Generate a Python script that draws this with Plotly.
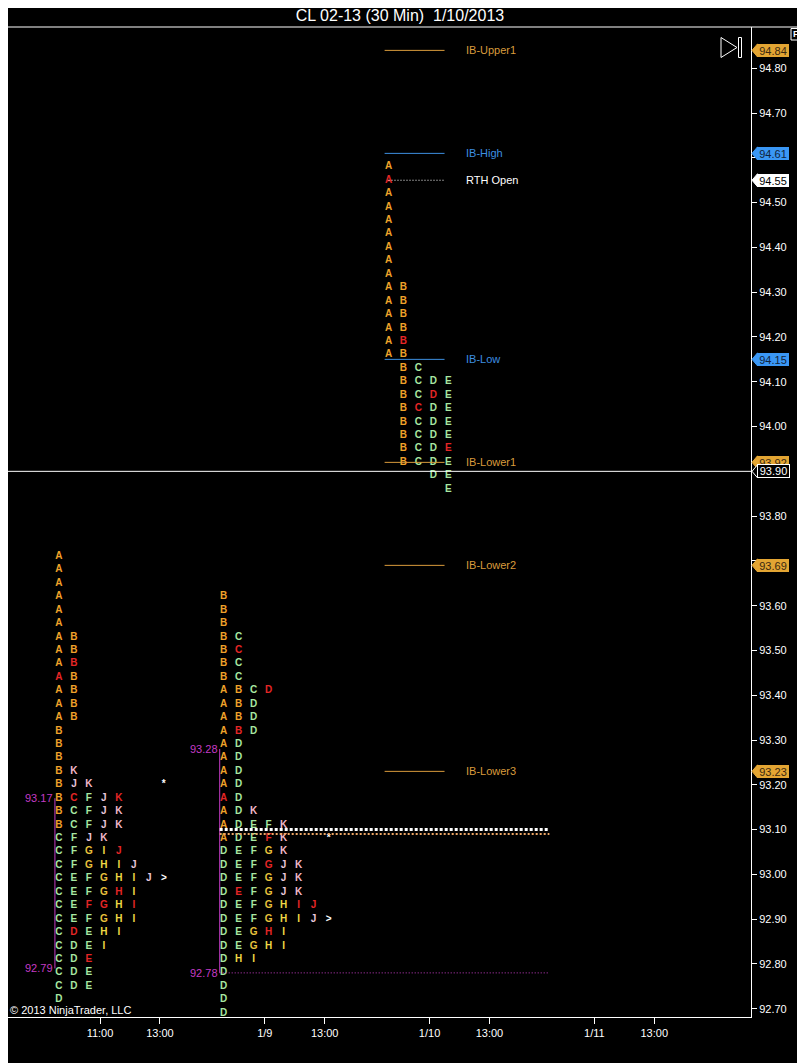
import plotly.graph_objects as go

# ---------------- data ----------------
TITLE = "CL 02-13 (30 Min)  1/10/2013"

BARS_PER_DAY = 11                     # 30-min RTH bars per session (A..K)
TICK_BARS = [3, 7, 14, 18, 25, 29, 36, 40]
TICK_TEXT = ["11:00", "13:00", "1/9", "13:00", "1/10", "13:00", "1/11", "13:00"]

PRICE_TICKS = [92.70, 92.80, 92.90, 93.00, 93.10, 93.20, 93.30, 93.40, 93.50,
               93.60, 93.70, 93.80, 93.90, 94.00, 94.10, 94.20, 94.30, 94.40,
               94.50, 94.60, 94.70, 94.80]
HIDDEN_PRICE_LABELS = [93.70, 93.90, 94.60]   # covered by price flags

TPO_STEP = 0.03
# lower-case letter = red (period open/close) TPO, '>' close marker, '*' marker

# profile of 1/8
P1_DAY = 0
P1_TOP = 93.71
P1_ROWS = [
    "A", "A", "A", "A", "A", "A",
    "AB", "AB", "Ab", "aB", "AB", "AB", "AB",
    "B", "B", "B", "BK", "BJK    *",
    "BcFJk", "BCFJK", "BCFJK",
    "CFJK", "CFGIj", "CFGHIJ", "CEFGHIJ>", "CEFGhI", "CEfgHi", "CEFGHI",
    "CdEHI", "CDEI", "CDe", "CDE", "CDE",
    "D",
]
P1_VAH, P1_VAL = 93.17, 92.79

# profile of 1/9
P2_DAY = 1
P2_TOP = 93.62
P2_ROWS = [
    "B", "B", "B", "BC", "Bc", "BC", "BC",
    "ABCd", "ABD", "ABD", "AbD", "AD", "AD", "AD", "AD", "aD",
    "ADK", "ADEFK", "ADEfK  *",
    "DEFGK", "DEFgJK", "DEFGJK", "DeFGJK", "DEFGHij", "DEFGHIJ>", "DEGhI",
    "DEGHI", "DHI",
    "D", "D", "D", "D",
]
P2_VAH, P2_VAL = 93.28, 92.78
P2_POC_LINE = 93.10
P2_VWAP_LINE = 93.09

# profile of 1/10 (developing)
P3_DAY = 2
P3_TOP = 94.58
P3_ROWS = [
    "A", "a", "A", "A", "A", "A", "A", "A", "A",
    "AB", "AB", "AB", "AB", "Ab", "AB",
    " BC", " BCDE", " BCdE", " BcDE", " BCDE", " BCDE", " BCDe", " BCDE",
    "   DE", "    E",
]

IB_NAMES = ["IB-Upper1", "IB-High", "IB-Low", "IB-Lower1", "IB-Lower2", "IB-Lower3"]
IB_PRICES = [94.84, 94.61, 94.15, 93.92, 93.69, 93.23]
IB_KIND = ["ext", "ib", "ib", "ext", "ext", "ext"]
RTH_OPEN = 94.55
LAST_PRICE = 93.90

# ---------------- style ----------------
FONT = "Arial, Liberation Sans, sans-serif"
ORANGE = "#F0A22A"
GREEN = "#A8E8A2"
GOLD = "#E8C23C"
YELLOW = "#F0D846"
PINK_J = "#E8C6DA"
PINK_K = "#F2B8CA"
RED = "#E52626"
WHITE = "#FFFFFF"
MAGENTA = "#C43BC4"
IB_ORANGE = "#D99B3C"
IB_BLUE = "#3D8FE0"
FLAG_ORANGE = "#E3A533"
FLAG_BLUE = "#3A97F5"

LETTER_COLORS = {"A": ORANGE, "B": ORANGE, "C": GREEN, "D": GREEN, "E": GREEN,
                 "F": GREEN, "G": GOLD, "H": YELLOW, "I": YELLOW, "J": PINK_J,
                 "K": PINK_K, ">": WHITE, "*": WHITE}

# page geometry (the page body adds an 8px offset)
OFF = 8
FIG_W, FIG_H = 805 - OFF, 1063 - OFF
PLOT_LEFT_PAGE, PLOT_RIGHT_PAGE = OFF, 751
PLOT_TOP_PAGE, PLOT_BOTTOM_PAGE = 27, 1017
PLOT_W = PLOT_RIGHT_PAGE - PLOT_LEFT_PAGE
PLOT_H = PLOT_BOTTOM_PAGE - PLOT_TOP_PAGE

COL_OFFSET = 0.26       # first TPO column inside session (bars)
VA_OFFSET = -0.27       # value-area bar relative to first column
PX_PER_BAR = 14.98
X_RANGE = [3 + (PLOT_LEFT_PAGE - 100) / PX_PER_BAR, 3 + (PLOT_RIGHT_PAGE - 100) / PX_PER_BAR]
Y_RANGE = [92.6815, 94.8922]
PX_PER_PRICE = PLOT_H / (Y_RANGE[1] - Y_RANGE[0])


def px_x(px):
    return (px - PLOT_LEFT_PAGE) / PLOT_W


def px_y(py):
    return (PLOT_BOTTOM_PAGE - py) / PLOT_H


# ---------------- build ----------------
groups = {}


def add_profile(rows, top, day):
    for i, row in enumerate(rows):
        price = round(top - i * TPO_STEP, 2)
        for c, ch in enumerate(row):
            if ch == " ":
                continue
            color = RED if ch.islower() else LETTER_COLORS[ch]
            g = groups.setdefault(color, ([], [], []))
            g[0].append(day * BARS_PER_DAY + COL_OFFSET + c)
            g[1].append(price)
            g[2].append(ch.upper())


add_profile(P1_ROWS, P1_TOP, P1_DAY)
add_profile(P2_ROWS, P2_TOP, P2_DAY)
add_profile(P3_ROWS, P3_TOP, P3_DAY)

fig = go.Figure()
for color, (xs, ys, ts) in groups.items():
    fig.add_trace(go.Scatter(
        x=xs, y=ys, text=ts, mode="text", textposition="middle center",
        textfont=dict(family=FONT, size=10, color=color, weight="bold"),
        hoverinfo="skip", showlegend=False))

shapes = []
annotations = []

# value areas
for day, vah, val in [(P1_DAY, P1_VAH, P1_VAL), (P2_DAY, P2_VAH, P2_VAL)]:
    xva = day * BARS_PER_DAY + COL_OFFSET + VA_OFFSET
    shapes.append(dict(type="line", x0=xva, x1=xva, y0=val, y1=vah,
                       line=dict(color=MAGENTA, width=1)))
    for v in (vah, val):
        annotations.append(dict(x=xva, y=v, text=f"{v:.2f}", showarrow=False,
                                xanchor="right", yanchor="middle", xshift=0,
                                font=dict(family=FONT, size=11, color=MAGENTA)))

# extended lines of prior day profile
x_ext0 = P2_DAY * BARS_PER_DAY + COL_OFFSET + VA_OFFSET
x_ext1 = (P3_DAY + 1) * BARS_PER_DAY
shapes.append(dict(type="line", x0=x_ext0, x1=x_ext1, y0=P2_VAL, y1=P2_VAL,
                   line=dict(color=MAGENTA, width=1, dash="1px,2px")))
shapes.append(dict(type="line", x0=x_ext0, x1=x_ext1, y0=P2_VWAP_LINE, y1=P2_VWAP_LINE,
                   line=dict(color="#EDA665", width=2, dash="2px,2px")))
shapes.append(dict(type="line", x0=x_ext0, x1=x_ext1, y0=P2_POC_LINE, y1=P2_POC_LINE,
                   line=dict(color=WHITE, width=3, dash="3px,2px")))

# IB levels of current day
ib_x0 = P3_DAY * BARS_PER_DAY
ib_x1 = ib_x0 + 4
ib_lab = ib_x0 + 5.30
for name, p, kind in zip(IB_NAMES, IB_PRICES, IB_KIND):
    col = IB_BLUE if kind == "ib" else IB_ORANGE
    shapes.append(dict(type="line", x0=ib_x0, x1=ib_x1, y0=p, y1=p,
                       line=dict(color=col, width=1)))
    annotations.append(dict(x=ib_lab, y=p, text=name, showarrow=False,
                            xanchor="left", yanchor="middle",
                            font=dict(family=FONT, size=11, color=col)))
shapes.append(dict(type="line", x0=ib_x0 + COL_OFFSET, x1=ib_x1, y0=RTH_OPEN, y1=RTH_OPEN,
                   line=dict(color=WHITE, width=1, dash="1px,2px")))
annotations.append(dict(x=ib_lab, y=RTH_OPEN, text="RTH Open", showarrow=False,
                        xanchor="left", yanchor="middle",
                        font=dict(family=FONT, size=11, color=WHITE)))

# last price line
shapes.append(dict(type="line", xref="paper", x0=0, x1=1, y0=LAST_PRICE, y1=LAST_PRICE,
                   line=dict(color=WHITE, width=1)))

# price flags on the axis
flags = []
for p, kind in zip(IB_PRICES, IB_KIND):
    flags.append((p, FLAG_BLUE if kind == "ib" else FLAG_ORANGE,
                  "#10243C" if kind == "ib" else "#3A2810", None))
flags.append((RTH_OPEN, WHITE, "#000000", None))
flags.append((LAST_PRICE, "#000000", WHITE, WHITE))
others = sorted([f for f in flags if f[0] != LAST_PRICE], key=lambda f: -f[0])
last = [f for f in flags if f[0] == LAST_PRICE]
order = [f for f in others if f[0] > LAST_PRICE] + last + [f for f in others if f[0] < LAST_PRICE]

half = 6.5 / PX_PER_PRICE
xt, xb = px_x(752), px_x(757.5)
for p, fill, tcol, border in order:
    shapes.append(dict(type="path", xref="paper", yref="y",
                       path=f"M {xt},{p} L {xb},{p + half} L {xb},{p - half} Z",
                       fillcolor=fill, line=dict(color=border or fill, width=1)))
    annotations.append(dict(xref="paper", x=px_x(773), y=p, text=f"{p:.2f}",
                            showarrow=False, xanchor="center", yanchor="middle",
                            width=30 if border is None else 29,
                            height=11 if border is None else 10,
                            bgcolor=fill, bordercolor=border or fill,
                            borderwidth=1 if border else 0, borderpad=1,
                            font=dict(family=FONT, size=11, color=tcol)))

# chart chrome
shapes.append(dict(type="line", xref="paper", yref="paper", x0=0, x1=px_x(805),
                   y0=1, y1=1, line=dict(color=WHITE, width=1)))
shapes.append(dict(type="path", xref="paper", yref="paper",
                   path=f"M {px_x(721)},{px_y(37.5)} L {px_x(721)},{px_y(57.5)} L {px_x(737)},{px_y(47.5)} Z",
                   line=dict(color=WHITE, width=1)))
shapes.append(dict(type="rect", xref="paper", yref="paper",
                   x0=px_x(738.5), x1=px_x(741.5), y0=px_y(57.5), y1=px_y(37.5),
                   line=dict(color=WHITE, width=1)))
shapes.append(dict(type="rect", xref="paper", yref="paper",
                   x0=px_x(791), x1=px_x(801), y0=px_y(40), y1=px_y(28.5),
                   line=dict(color=WHITE, width=1), fillcolor="#000000"))
annotations.append(dict(xref="paper", yref="paper", x=px_x(796), y=px_y(34.5),
                        text="<b>F</b>", showarrow=False, xanchor="center", yanchor="middle",
                        font=dict(family=FONT, size=9, color=WHITE)))
annotations.append(dict(xref="paper", yref="paper", x=px_x(8), y=px_y(1010),
                        text="© 2013 NinjaTrader, LLC", showarrow=False,
                        xanchor="left", yanchor="middle",
                        font=dict(family=FONT, size=11, color=WHITE)))

for s in shapes:
    s.setdefault("layer", "above")

tick_text = ["" if v in HIDDEN_PRICE_LABELS else f"{v:.2f}" for v in PRICE_TICKS]

fig.update_layout(
    width=FIG_W, height=FIG_H,
    margin=dict(l=PLOT_LEFT_PAGE - OFF, r=FIG_W - (PLOT_RIGHT_PAGE - OFF),
                t=PLOT_TOP_PAGE - OFF, b=FIG_H - (PLOT_BOTTOM_PAGE - OFF)),
    paper_bgcolor="#000000", plot_bgcolor="#000000",
    showlegend=False,
    title=dict(text=TITLE, x=(400 - OFF) / FIG_W, xref="container", xanchor="center",
               y=1 - (15 - OFF) / FIG_H, yref="container", yanchor="middle",
               font=dict(family=FONT, size=16, color=WHITE)),
    xaxis=dict(range=X_RANGE, tickmode="array", tickvals=TICK_BARS, ticktext=TICK_TEXT,
               showgrid=False, zeroline=False, showline=True, linecolor=WHITE,
               linewidth=1, ticks="outside", ticklen=6, tickcolor=WHITE,
               tickfont=dict(family=FONT, size=11, color=WHITE), fixedrange=True),
    yaxis=dict(range=Y_RANGE, side="right", tickmode="array", tickvals=PRICE_TICKS,
               ticktext=tick_text, showgrid=False, zeroline=False, showline=True,
               linecolor=WHITE, linewidth=1, ticks="outside", ticklen=5,
               tickcolor=WHITE, tickfont=dict(family=FONT, size=11, color=WHITE),
               fixedrange=True),
    shapes=shapes, annotations=annotations,
)

fig.write_html("out.html")
